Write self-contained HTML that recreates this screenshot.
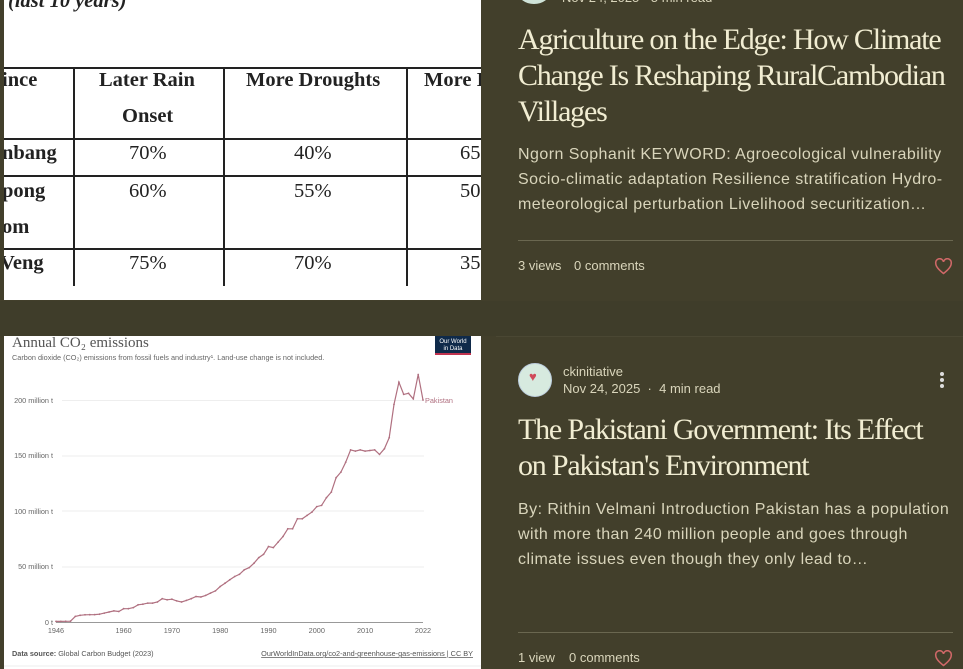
<!DOCTYPE html>
<html><head><meta charset="utf-8"><style>
*{margin:0;padding:0;box-sizing:border-box}
body{width:963px;height:669px;overflow:hidden;background:#3f3d2a;position:relative;font-family:"Liberation Sans",sans-serif}
.abs{position:absolute;white-space:nowrap}
.card{position:absolute;background:#423f2b}
.title{font-family:"Liberation Serif",serif;color:#f1edd2;font-size:30px;letter-spacing:-1.2px;line-height:36px;left:518px}
.body{color:#d9d5bb;font-size:16px;line-height:25px;left:518px;letter-spacing:0.45px}
.stat{color:#d9d5bb;font-size:13px}
.line{position:absolute;height:1px;background:#6a6750}
.tb{position:absolute;background:#222}
.tt{position:absolute;font-family:"Liberation Serif",serif;font-size:20.5px;color:#222;white-space:nowrap}
.b{font-weight:bold}
</style></head><body>
<div class="card" style="left:0;top:0;width:963px;height:301px"></div>
<div class="card" style="left:0;top:336px;width:963px;height:333px"></div>
<div class="line" style="left:496px;top:336px;width:467px;background:#4a4733"></div>

<div style="position:absolute;left:4px;top:0;width:477px;height:300px;background:#fff;overflow:hidden">
  <div class="tt b" style="left:4px;top:-10px;font-style:italic">(last 10 years)</div>
  <div class="tb" style="left:0;top:67px;width:477px;height:2px"></div>
  <div class="tb" style="left:0;top:138px;width:477px;height:2px"></div>
  <div class="tb" style="left:0;top:175px;width:477px;height:2px"></div>
  <div class="tb" style="left:0;top:248px;width:477px;height:2px"></div>
  <div class="tb" style="left:69px;top:67px;width:2px;height:219px"></div>
  <div class="tb" style="left:219px;top:67px;width:2px;height:219px"></div>
  <div class="tb" style="left:402px;top:67px;width:2px;height:219px"></div>
  <div class="tt b" style="left:-2px;top:69px">ince</div>
  <div class="tt b" style="left:95px;top:69px">Later Rain</div>
  <div class="tt b" style="left:118px;top:105px">Onset</div>
  <div class="tt b" style="left:242px;top:69px">More Droughts</div>
  <div class="tt b" style="left:420px;top:69px">More I</div>
  <div class="tt b" style="left:-2px;top:142px">nbang</div>
  <div class="tt" style="left:125px;top:142px">70%</div>
  <div class="tt" style="left:290px;top:142px">40%</div>
  <div class="tt" style="left:456px;top:142px">65</div>
  <div class="tt b" style="left:-2px;top:180px">pong</div>
  <div class="tt b" style="left:-2px;top:216px">om</div>
  <div class="tt" style="left:125px;top:180px">60%</div>
  <div class="tt" style="left:290px;top:180px">55%</div>
  <div class="tt" style="left:456px;top:180px">50</div>
  <div class="tt b" style="left:-4px;top:252px">Veng</div>
  <div class="tt" style="left:125px;top:252px">75%</div>
  <div class="tt" style="left:290px;top:252px">70%</div>
  <div class="tt" style="left:456px;top:252px">35</div>
</div>

<div style="position:absolute;left:4px;top:336px;width:477px;height:333px;background:#fff;overflow:hidden">
  <svg width="477" height="333" style="position:absolute;left:0;top:0">
    <g stroke="#eee" stroke-width="1">
      <line x1="58" x2="420" y1="64.5" y2="64.5"/><line x1="58" x2="420" y1="120" y2="120"/>
      <line x1="58" x2="420" y1="175" y2="175"/><line x1="58" x2="420" y1="231" y2="231"/>
      <line x1="0" x2="477" y1="330" y2="330"/>
    </g>
    <line x1="52" x2="419" y1="286.5" y2="286.5" stroke="#999" stroke-width="1"/>
    <rect x="431" y="0" width="36" height="17" fill="#0f2a4a"/><rect x="431" y="17" width="36" height="2" fill="#c0334f"/>
    <text x="449" y="7" font-size="6" fill="#fff" text-anchor="middle" font-family="Liberation Sans">Our World</text>
    <text x="449" y="14" font-size="6" fill="#fff" text-anchor="middle" font-family="Liberation Sans">in Data</text>
    <text x="8" y="11" font-family="Liberation Serif" font-size="15" fill="#555">Annual CO₂ emissions</text>
    <text x="8" y="24" font-family="Liberation Sans" font-size="7.3" fill="#666">Carbon dioxide (CO₂) emissions from fossil fuels and industry¹. Land-use change is not included.</text>
    <g font-family="Liberation Sans" font-size="7.3" fill="#666" text-anchor="end">
      <text x="49" y="67">200 million t</text><text x="49" y="122">150 million t</text>
      <text x="49" y="178">100 million t</text><text x="49" y="233">50 million t</text><text x="49" y="289">0 t</text>
    </g>
    <g font-family="Liberation Sans" font-size="7.3" fill="#666" text-anchor="middle" id="xt"></g>
    <polyline id="pl" fill="none" stroke="#b07080" stroke-width="1.2"/>
    <g id="dots" fill="#b07080"></g>
    <text x="421" y="67" font-family="Liberation Sans" font-size="7.3" fill="#b07080">Pakistan</text>
    <text x="8" y="320" font-family="Liberation Sans" font-size="7.3" fill="#555"><tspan font-weight="bold">Data source:</tspan> Global Carbon Budget (2023)</text>
    <text x="469" y="320" font-family="Liberation Sans" font-size="7.3" fill="#555" text-anchor="end" text-decoration="underline">OurWorldInData.org/co2-and-greenhouse-gas-emissions | CC BY</text>
  </svg>
</div>

<div class="abs stat" style="left:562px;top:-10px;color:#d9d5bb;font-size:13px">Nov 24, 2025 · 5 min read</div>
<div class="abs" style="left:518px;top:-20px;width:32px;height:24px;border-radius:50%;background:#cfe3d8"></div>
<div class="abs title" style="top:22px">Agriculture on the Edge: How Climate<br>Change Is Reshaping RuralCambodian<br>Villages</div>
<div class="abs body" style="top:142px">Ngorn Sophanit KEYWORD: Agroecological vulnerability<br>Socio-climatic adaptation Resilience stratification Hydro-<br>meteorological perturbation Livelihood securitization…</div>
<div class="line" style="left:518px;top:240px;width:435px"></div>
<div class="abs stat" style="left:518px;top:258px">3 views</div>
<div class="abs stat" style="left:574px;top:258px">0 comments</div>

<div class="abs" style="left:518px;top:363px;width:34px;height:34px;border-radius:50%;background:#d7eadf;border:1px solid #bcd"></div>
<div class="abs" style="left:529px;top:369px;color:#d04a5a;font-size:13px">♥</div>
<div class="abs" style="left:563px;top:364px;color:#d9d5bb;font-size:13px">ckinitiative</div>
<div class="abs" style="left:563px;top:381px;color:#d9d5bb;font-size:13px">Nov 24, 2025 &nbsp;·&nbsp; 4 min read</div>
<div class="abs" style="left:940px;top:372px;width:4px;height:4px;border-radius:50%;background:#ddd;box-shadow:0 6px 0 #ddd,0 12px 0 #ddd"></div>
<div class="abs title" style="top:412px">The Pakistani Government: Its Effect<br>on Pakistan's Environment</div>
<div class="abs body" style="top:497px">By: Rithin Velmani Introduction Pakistan has a population<br>with more than 240 million people and goes through<br>climate issues even though they only lead to…</div>
<div class="line" style="left:518px;top:632px;width:435px"></div>
<div class="abs stat" style="left:518px;top:650px">1 view</div>
<div class="abs stat" style="left:569px;top:650px">0 comments</div>

<svg class="abs" style="left:934px;top:258px" width="19" height="17" viewBox="0 0 24 22"><path d="M12 20 C4 14 2 10 2 7 A5 5 0 0 1 12 5 A5 5 0 0 1 22 7 C22 10 20 14 12 20Z" fill="none" stroke="#d06868" stroke-width="2"/></svg>
<svg class="abs" style="left:934px;top:650px" width="19" height="17" viewBox="0 0 24 22"><path d="M12 20 C4 14 2 10 2 7 A5 5 0 0 1 12 5 A5 5 0 0 1 22 7 C22 10 20 14 12 20Z" fill="none" stroke="#d06868" stroke-width="2"/></svg>

<script>
var v=[0.5,0.5,0.6,0.7,5,6,6.5,6.6,6.7,7,8,9,10,9.5,12,12,13,15.5,16,17,17,18,21,20,20.5,19,18,19.5,21,23,22.5,24,26,28,32,35,38,41,43,47,49,53,58,61,68,67,72,77,84,84,93,93,96,99,104,105,112,117,130,135,144,155,154,155,154,154.5,155,151,156,166,196,216,205,206,201,223,200];
var x0=52,dx=(419-52)/76,y0=286,sy=222/200,pts=[],d='';
for(var i=0;i<v.length;i++){var x=x0+i*dx,y=y0-v[i]*sy;pts.push(x.toFixed(1)+','+y.toFixed(1));d+='<circle cx="'+x.toFixed(1)+'" cy="'+y.toFixed(1)+'" r="0.9"/>';}
document.getElementById('pl').setAttribute('points',pts.join(' '));
document.getElementById('dots').innerHTML=d;
var t='',yr=[1946,1960,1970,1980,1990,2000,2010,2022];
yr.forEach(function(y){t+='<text x="'+(x0+(y-1946)*dx).toFixed(1)+'" y="297">'+y+'</text>';});
document.getElementById('xt').innerHTML=t;
</script>
</body></html>
